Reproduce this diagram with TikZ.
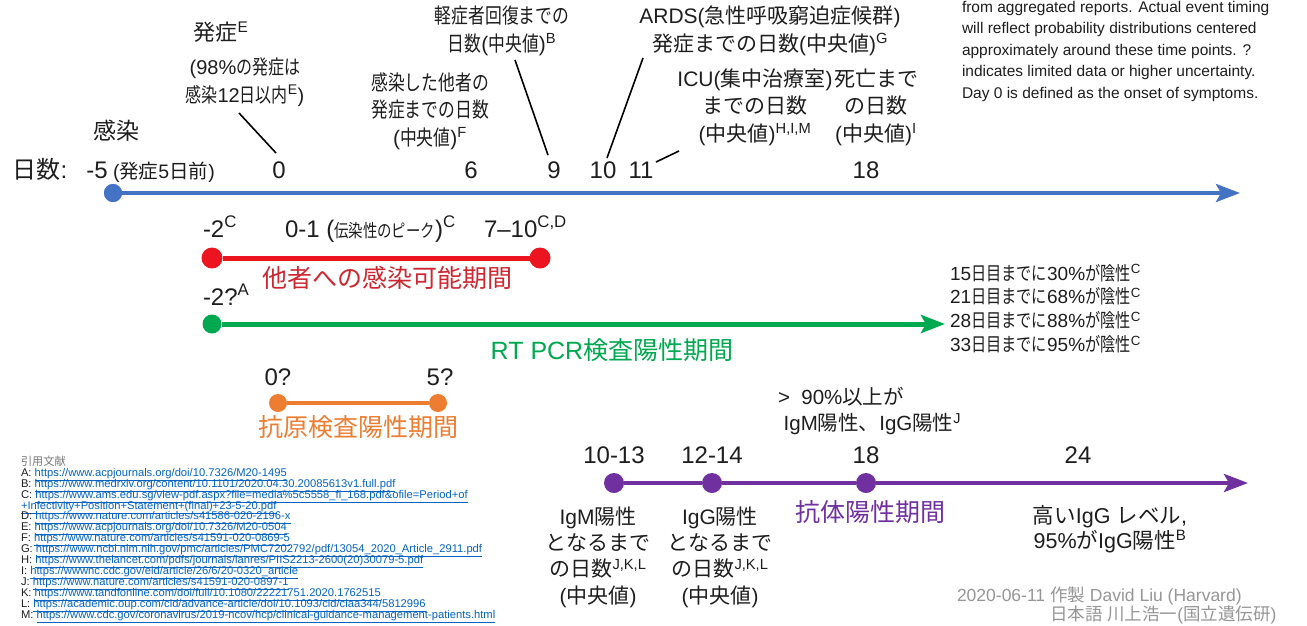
\documentclass[tikz,border=0pt]{standalone}
\usepackage{fontspec}
\setmainfont{Liberation Sans}
\newfontfamily\cjkfam{Noto Sans CJK JP}
\newfontfamily\cjknarrow{Noto Sans CJK JP}[FakeStretch=0.8]
\newfontfamily\latfam{Liberation Sans}
\usetikzlibrary{arrows.meta}
\XeTeXinterchartokenstate=1
\newXeTeXintercharclass\CJKcls
\makeatletter
\count@="3000
\loop \XeTeXcharclass\count@=\CJKcls \ifnum\count@<"9FFF \advance\count@ 1 \repeat
\count@="FF00
\loop \XeTeXcharclass\count@=\CJKcls \ifnum\count@<"FFEF \advance\count@ 1 \repeat
\makeatother
\XeTeXinterchartoks 0 \CJKcls = {\cjkfam}
\XeTeXinterchartoks 4095 \CJKcls = {\cjkfam}
\XeTeXinterchartoks \CJKcls 0 = {\latfam}
\XeTeXinterchartoks \CJKcls 4095 = {\latfam}
\newcommand{\narrowcjk}{\let\cjkfam\cjknarrow}
\newcommand{\tightlines}{\lineskiplimit -20pt\relax}
\definecolor{tblue}{RGB}{68,114,196}
\definecolor{tred}{RGB}{236,20,30}
\definecolor{tredtxt}{RGB}{205,40,50}
\definecolor{tgreen}{RGB}{0,168,80}
\definecolor{torange}{RGB}{237,125,49}
\definecolor{tpurple}{RGB}{112,48,160}
\definecolor{tlink}{RGB}{5,99,193}
\definecolor{tgray}{RGB}{150,150,150}
\definecolor{ttext}{RGB}{30,30,30}
\newcommand{\sps}[1]{\textsuperscript{#1}}
\newcommand{\lnk}[1]{\textcolor{tlink}{\underline{#1}}}
\begin{document}
\begin{tikzpicture}[x=1pt,y=-1pt,
  every node/.style={inner sep=0pt, outer sep=0pt, text=ttext},
  lbl/.style={align=center, font=\fontsize{21}{27.5}\selectfont},
  nlbl/.style={align=center, font=\narrowcjk\fontsize{21}{27.5}\selectfont},
  numb/.style={anchor=base, font=\fontsize{24}{28}\selectfont},
  per/.style={font=\fontsize{24}{28}\selectfont},
  big/.style={font=\fontsize{25}{28}\selectfont},
  mydot/.style={circle, fill=#1, minimum size=19pt},
  leader/.style={draw=black, line width=1.6pt},
  tl/.style={line width=#1, line cap=butt},
  arr/.style={-{Stealth[length=24pt,width=18pt,inset=5pt]}}
]
\useasboundingbox[fill=white] (0,0) rectangle (1307,625);

% ---------- top note ----------
\node[anchor=north west, align=left, font=\fontsize{15.5}{21.5}\selectfont] (note) at (962,1)
 {from aggregated reports. Actual event timing\\
  will reflect probability distributions centered\\
  approximately around these time points. ?\\
  indicates limited data or higher uncertainty.\\
  Day 0 is defined as the onset of symptoms.};

% ---------- blue timeline ----------
\node[numb] (dlab) at (40,178) {日数:};
\node[numb] (dm5) at (97,178) {-5};
\node[anchor=base west, font=\fontsize{19.5}{20}\selectfont] (dm5n) at (113,178) {(発症5日前)};
\node[font=\fontsize{23}{28}\selectfont] (inf) at (116,131) {感染};
\node[numb] (d0) at (279,178) {0};
\node[numb] (d6) at (471,178) {6};
\node[numb] (d9) at (554,178) {9};
\node[numb] (d10) at (603,178) {10};
\node[numb] (d11) at (641,178) {11};
\node[numb] (d18) at (866,178) {18};

\node[font=\fontsize{22}{28}\selectfont] (onset) at (221,32) {発症\sps{E}};
\node[nlbl, font=\narrowcjk\fontsize{20}{27.5}\selectfont] (onset2) at (245,82) {(98\%の発症は\\感染12日以内\sps{E})};
\node[nlbl] (sec) at (430,111) {感染した他者の\\発症までの日数\\(中央値)\sps{F}};
\node[nlbl] (mild) at (502,31) {軽症者回復までの\\日数(中央値)\sps{B}};
\node[lbl] (ards) at (770,31) {ARDS(急性呼吸窮迫症候群)\\発症までの日数(中央値)\sps{G}};
\node[lbl] (icu) at (755,107) {ICU(集中治療室)\\までの日数\\(中央値)\sps{H,I,M}};
\node[lbl] (death) at (876,107) {死亡まで\\の日数\\(中央値)\sps{I}};

\coordinate (c0a) at (239,113); \coordinate (c0b) at (276,153);
\coordinate (c9a) at (515,60);  \coordinate (c9b) at (548,155);
\coordinate (c10a) at (643,58); \coordinate (c10b) at (607,158);
\coordinate (c11a) at (679,151); \coordinate (c11b) at (656,162);
\draw[leader] (c0a) -- (c0b);
\draw[leader] (c9a) -- (c9b);
\draw[leader] (c10a) -- (c10b);
\draw[leader] (c11a) -- (c11b);

\node[mydot=tblue, minimum size=18pt] (b0) at (113,193) {};
\coordinate (bend) at (1240,193);
\draw[tblue, tl=4pt, arr] (b0.center) -- (bend);
\node[mydot=tblue, minimum size=18pt] at (b0) {};

% ---------- red ----------
\node[anchor=base west, per] (rm2) at (203,237) {-2\sps{C}};
\node[anchor=base west, per] (rpk) at (285,237) {0-1 ({\narrowcjk\fontsize{18}{20}\selectfont 伝染性のピーク})\sps{C}};
\node[anchor=base west, per] (r710) at (484,237) {7–10\sps{C,D}};
\node[mydot=tred, minimum size=21pt] (r1) at (212,258) {};
\node[mydot=tred, minimum size=21pt] (r2) at (540,258) {};
\draw[tred, tl=5pt] (r1) -- (r2);
\node[big, text=tredtxt] (rlab) at (387,278) {他者への感染可能期間};

% ---------- green ----------
\node[anchor=base west, per] (gm2) at (203,305) {-2?\sps{A}};
\node[mydot=tgreen, minimum size=19pt] (g1) at (212,324) {};
\coordinate (gend) at (945,324);
\draw[tgreen, tl=5pt, arr] (g1) -- (gend);
\node[big, text=tgreen] (glab) at (612,350) {RT PCR検査陽性期間};
\node[anchor=west, align=left, font=\narrowcjk\fontsize{19}{23.7}\selectfont] (gneg) at (950,308.5)
 {15日目までに30\%が陰性\sps{C}\\
  21日目までに68\%が陰性\sps{C}\\
  28日目までに88\%が陰性\sps{C}\\
  33日目までに95\%が陰性\sps{C}};

% ---------- orange ----------
\node[per] (o0) at (278,377) {0?};
\node[per] (o5) at (440,377) {5?};
\node[mydot=torange, minimum size=18pt] (or1) at (278,403) {};
\node[mydot=torange, minimum size=18pt] (or2) at (438,403) {};
\draw[torange, tl=4pt] (or1) -- (or2);
\node[big, text=torange] (olab) at (358,427) {抗原検査陽性期間};

% ---------- purple ----------
\node[anchor=west, align=left, font=\fontsize{20.5}{26}\selectfont] (p90) at (778,411)
 {>\ \ 90\%以上が\\\ IgM陽性、IgG陽性\sps{J}};
\node[per] (p1013) at (614,455) {10-13};
\node[per] (p1214) at (712,455) {12-14};
\node[per] (p18) at (866,455) {18};
\node[per] (p24) at (1078,455) {24};
\node[mydot=tpurple, minimum size=20pt] (pu1) at (614,483) {};
\node[mydot=tpurple, minimum size=20pt] (pu2) at (712,483) {};
\node[mydot=tpurple, minimum size=20pt] (pu3) at (866,483) {};
\coordinate (pend) at (1248,483);
\draw[tpurple, tl=4pt] (pu1) -- (pu2);
\draw[tpurple, tl=4pt] (pu2) -- (pu3);
\draw[tpurple, tl=4pt, arr] (pu3) -- (pend);
\node[big, text=tpurple] (plab) at (870,512) {抗体陽性期間};
\node[lbl, font=\fontsize{21}{26.3}\selectfont] (igm) at (598,557) {IgM陽性\\となるまで\\の日数\sps{J,K,L}\\(中央値)};
\node[lbl, font=\fontsize{21}{26.3}\selectfont] (igg) at (720,557) {IgG陽性\\となるまで\\の日数\sps{J,K,L}\\(中央値)};
\node[lbl, font=\fontsize{21.5}{24.5}\selectfont] (high) at (1110,529) {高いIgG レベル,\\95\%がIgG陽性\sps{B}};

% ---------- references ----------
\node[anchor=north west, align=left, font=\fontsize{11.2}{10.9}\selectfont\tightlines] (refs) at (21,456)
 {\textcolor{tgray!80!black}{引用文献}\\
  A: \lnk{https://www.acpjournals.org/doi/10.7326/M20-1495}\\
  B: \lnk{https://www.medrxiv.org/content/10.1101/2020.04.30.20085613v1.full.pdf}\\
  C: \lnk{https://www.ams.edu.sg/view-pdf.aspx?file=media\%5c5558\_fi\_168.pdf\&ofile=Period+of}\\
  \lnk{+Infectivity+Position+Statement+(final)+23-5-20.pdf}\\
  D: \lnk{https://www.nature.com/articles/s41586-020-2196-x}\\
  E: \lnk{https://www.acpjournals.org/doi/10.7326/M20-0504}\\
  F: \lnk{https://www.nature.com/articles/s41591-020-0869-5}\\
  G: \lnk{https://www.ncbi.nlm.nih.gov/pmc/articles/PMC7202792/pdf/13054\_2020\_Article\_2911.pdf}\\
  H: \lnk{https://www.thelancet.com/pdfs/journals/lanres/PIIS2213-2600(20)30079-5.pdf}\\
  I: \lnk{https://wwwnc.cdc.gov/eid/article/26/6/20-0320\_article}\\
  J: \lnk{https://www.nature.com/articles/s41591-020-0897-1}\\
  K: \lnk{https://www.tandfonline.com/doi/full/10.1080/22221751.2020.1762515}\\
  L: \lnk{https://academic.oup.com/cid/advance-article/doi/10.1093/cid/ciaa344/5812996}\\
  M: \lnk{https://www.cdc.gov/coronavirus/2019-ncov/hcp/clinical-guidance-management-patients.html}};

% ---------- signature ----------
\node[anchor=west, font=\fontsize{17.5}{20}\selectfont, text=tgray] (sig1) at (957,596) {2020-06-11 作製 David Liu (Harvard)};
\node[anchor=west, font=\fontsize{17.5}{20}\selectfont, text=tgray] (sig2) at (1050,614.5) {日本語 川上浩一(国立遺伝研)};
\end{tikzpicture}
\end{document}
